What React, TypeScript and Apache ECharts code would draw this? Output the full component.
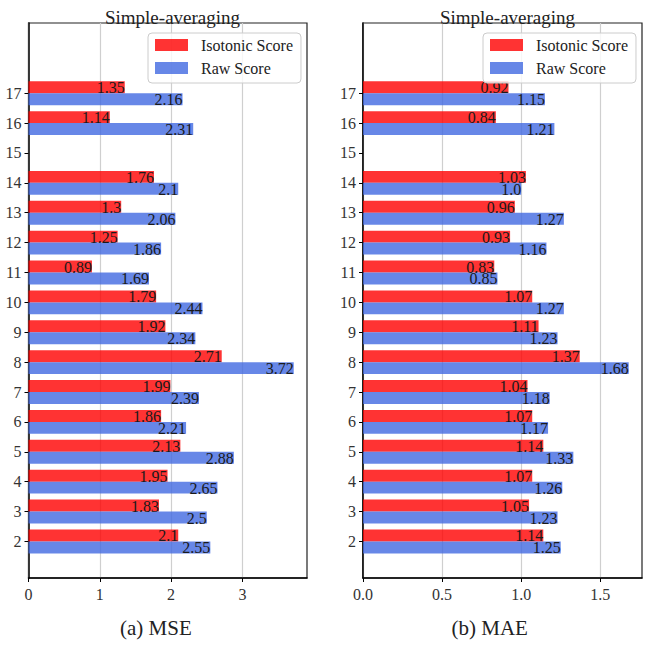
import React, { useEffect, useRef } from "react";
import * as echarts from "echarts";

// Subgroup ids on the y axis (15 has no measurement)
const categories = [2, 3, 4, 5, 6, 7, 8, 9, 10, 11, 12, 13, 14, 15, 16, 17];

// (a) MSE
const mseIsotonic = [2.1, 1.83, 1.95, 2.13, 1.86, 1.99, 2.71, 1.92, 1.79, 0.89, 1.25, 1.3, 1.76, null, 1.14, 1.35];
const mseRaw = [2.55, 2.5, 2.65, 2.88, 2.21, 2.39, 3.72, 2.34, 2.44, 1.69, 1.86, 2.06, 2.1, null, 2.31, 2.16];

// (b) MAE
const maeIsotonic = [1.14, 1.05, 1.07, 1.14, 1.07, 1.04, 1.37, 1.11, 1.07, 0.83, 0.93, 0.96, 1.03, null, 0.84, 0.92];
const maeRaw = [1.25, 1.23, 1.26, 1.33, 1.17, 1.18, 1.68, 1.23, 1.27, 0.85, 1.16, 1.27, 1.0, null, 1.21, 1.15];

const mseTicks = [0, 1, 2, 3];
const maeTicks = [0, 0.5, 1.0, 1.5];

const RED = "rgba(255,0,0,0.8)";
const BLUE = "rgba(65,105,225,0.8)";
const FONT = "Liberation Serif";
const BAR = 0.4;

function fmt(v: number) {
  return Number.isInteger(v) ? v.toFixed(1) : String(v);
}

function pairs(vals: (number | null)[]) {
  const out: [number, number][] = [];
  vals.forEach((v, i) => {
    if (v !== null) out.push([v, categories[i]]);
  });
  return out;
}

// Horizontal bar drawn on value/value axes; upper = sits above the category tick
function makeRender(upper: boolean) {
  return (params: any, api: any) => {
    const v = api.value(0);
    const c = api.value(1);
    const y0 = upper ? c + BAR : c;
    const y1 = upper ? c : c - BAR;
    const p0 = api.coord([0, y0]);
    const p1 = api.coord([v, y1]);
    return {
      type: "group",
      children: [
        {
          type: "rect",
          shape: { x: p0[0], y: p0[1], width: p1[0] - p0[0], height: p1[1] - p0[1] },
          style: { fill: upper ? RED : BLUE },
        },
        {
          type: "text",
          z2: 10,
          x: p1[0],
          y: (p0[1] + p1[1]) / 2 + 0.5,
          style: {
            text: fmt(v),
            align: "right",
            verticalAlign: "middle",
            fontFamily: FONT,
            fontSize: 16,
            fill: "#1a1a1a",
          },
        },
      ],
    };
  };
}

const Y_MIN = 0.776;
const Y_MAX = 19.35;

export default function App() {
  const ref = useRef<HTMLDivElement>(null);

  useEffect(() => {
    if (!ref.current) return;
    const chart = echarts.init(ref.current, null, { renderer: "svg" });

    const grids = [
      { left: 28.5, top: 23, width: 278.5, height: 555 },
      { left: 363, top: 23, width: 279, height: 555 },
    ];

    const xAxis = [
      { max: Math.max(...(mseRaw.filter((v) => v !== null) as number[])) * 1.05, ticks: mseTicks, dec: 0 },
      { max: Math.max(...(maeRaw.filter((v) => v !== null) as number[])) * 1.05, ticks: maeTicks, dec: 1 },
    ].map((a, i) => ({
      type: "value",
      gridIndex: i,
      min: 0,
      max: a.max,
      axisLine: { show: true, onZero: false, lineStyle: { color: "#000", width: 1.5 } },
      axisTick: { show: true, length: 4, customValues: a.ticks, lineStyle: { color: "#000" } },
      axisLabel: {
        customValues: a.ticks,
        margin: 8,
        fontFamily: FONT,
        fontSize: 16,
        color: "#333",
        formatter: (v: number) => v.toFixed(a.dec),
      },
      splitLine: { show: true, lineStyle: { color: "#cfcfcf", width: 1.2 } },
    }));

    const yAxis = [0, 1].map((i) => ({
      type: "value",
      gridIndex: i,
      min: Y_MIN,
      max: Y_MAX,
      axisLine: { show: true, onZero: false, lineStyle: { color: "#000", width: 1.5 } },
      axisTick: { show: true, length: 4, customValues: categories, lineStyle: { color: "#000" } },
      axisLabel: {
        customValues: categories,
        margin: 7,
        fontFamily: FONT,
        fontSize: 16,
        color: "#333",
      },
      splitLine: { show: false },
    }));

    const legendBase = {
      orient: "vertical",
      top: 33,
      icon: "rect",
      itemWidth: 33,
      itemHeight: 12,
      itemGap: 7,
      padding: [4, 8, 7, 7],
      borderColor: "#cccccc",
      borderWidth: 1,
      borderRadius: 4,
      backgroundColor: "rgba(255,255,255,0.8)",
      textStyle: { fontFamily: FONT, fontSize: 16, color: "#222", padding: [0, 0, 0, 8] },
      data: ["Isotonic Score", "Raw Score"],
      selectedMode: false,
    };

    chart.setOption({
      animation: false,
      backgroundColor: "#fff",
      grid: grids.map((g) => ({
        ...g,
        show: true,
        borderColor: "#222",
        borderWidth: 1.2,
        backgroundColor: "transparent",
      })),
      title: [
        { text: "Simple-averaging", left: 167.5, top: 3, textAlign: "center" },
        { text: "Simple-averaging", left: 502.5, top: 3, textAlign: "center" },
      ].map((t) => ({
        ...t,
        textStyle: { fontFamily: FONT, fontSize: 19, fontWeight: "normal", color: "#222" },
      })),
      legend: [
        { ...legendBase, left: 148 },
        { ...legendBase, left: 483 },
      ],
      xAxis,
      yAxis,
      series: [
        { name: "Isotonic Score", data: pairs(mseIsotonic), xAxisIndex: 0, yAxisIndex: 0, upper: true },
        { name: "Raw Score", data: pairs(mseRaw), xAxisIndex: 0, yAxisIndex: 0, upper: false },
        { name: "Isotonic Score", data: pairs(maeIsotonic), xAxisIndex: 1, yAxisIndex: 1, upper: true },
        { name: "Raw Score", data: pairs(maeRaw), xAxisIndex: 1, yAxisIndex: 1, upper: false },
      ].map((s) => ({
        type: "custom",
        name: s.name,
        xAxisIndex: s.xAxisIndex,
        yAxisIndex: s.yAxisIndex,
        data: s.data,
        encode: { x: 0, y: 1 },
        itemStyle: { color: s.upper ? RED : BLUE },
        renderItem: makeRender(s.upper),
        clip: false,
      })),
      graphic: [
        {
          type: "text",
          left: 157 - 37,
          top: 617,
          style: { text: "(a) MSE", fontFamily: FONT, fontSize: 21, fill: "#222" },
        },
        {
          type: "text",
          left: 491.5 - 40,
          top: 617,
          style: { text: "(b) MAE", fontFamily: FONT, fontSize: 21, fill: "#222" },
        },
      ],
    });

    return () => chart.dispose();
  }, []);

  return (
    <div
      ref={ref}
      style={{ position: "fixed", left: 0, top: 0, width: 649, height: 646, background: "#fff" }}
    />
  );
}
